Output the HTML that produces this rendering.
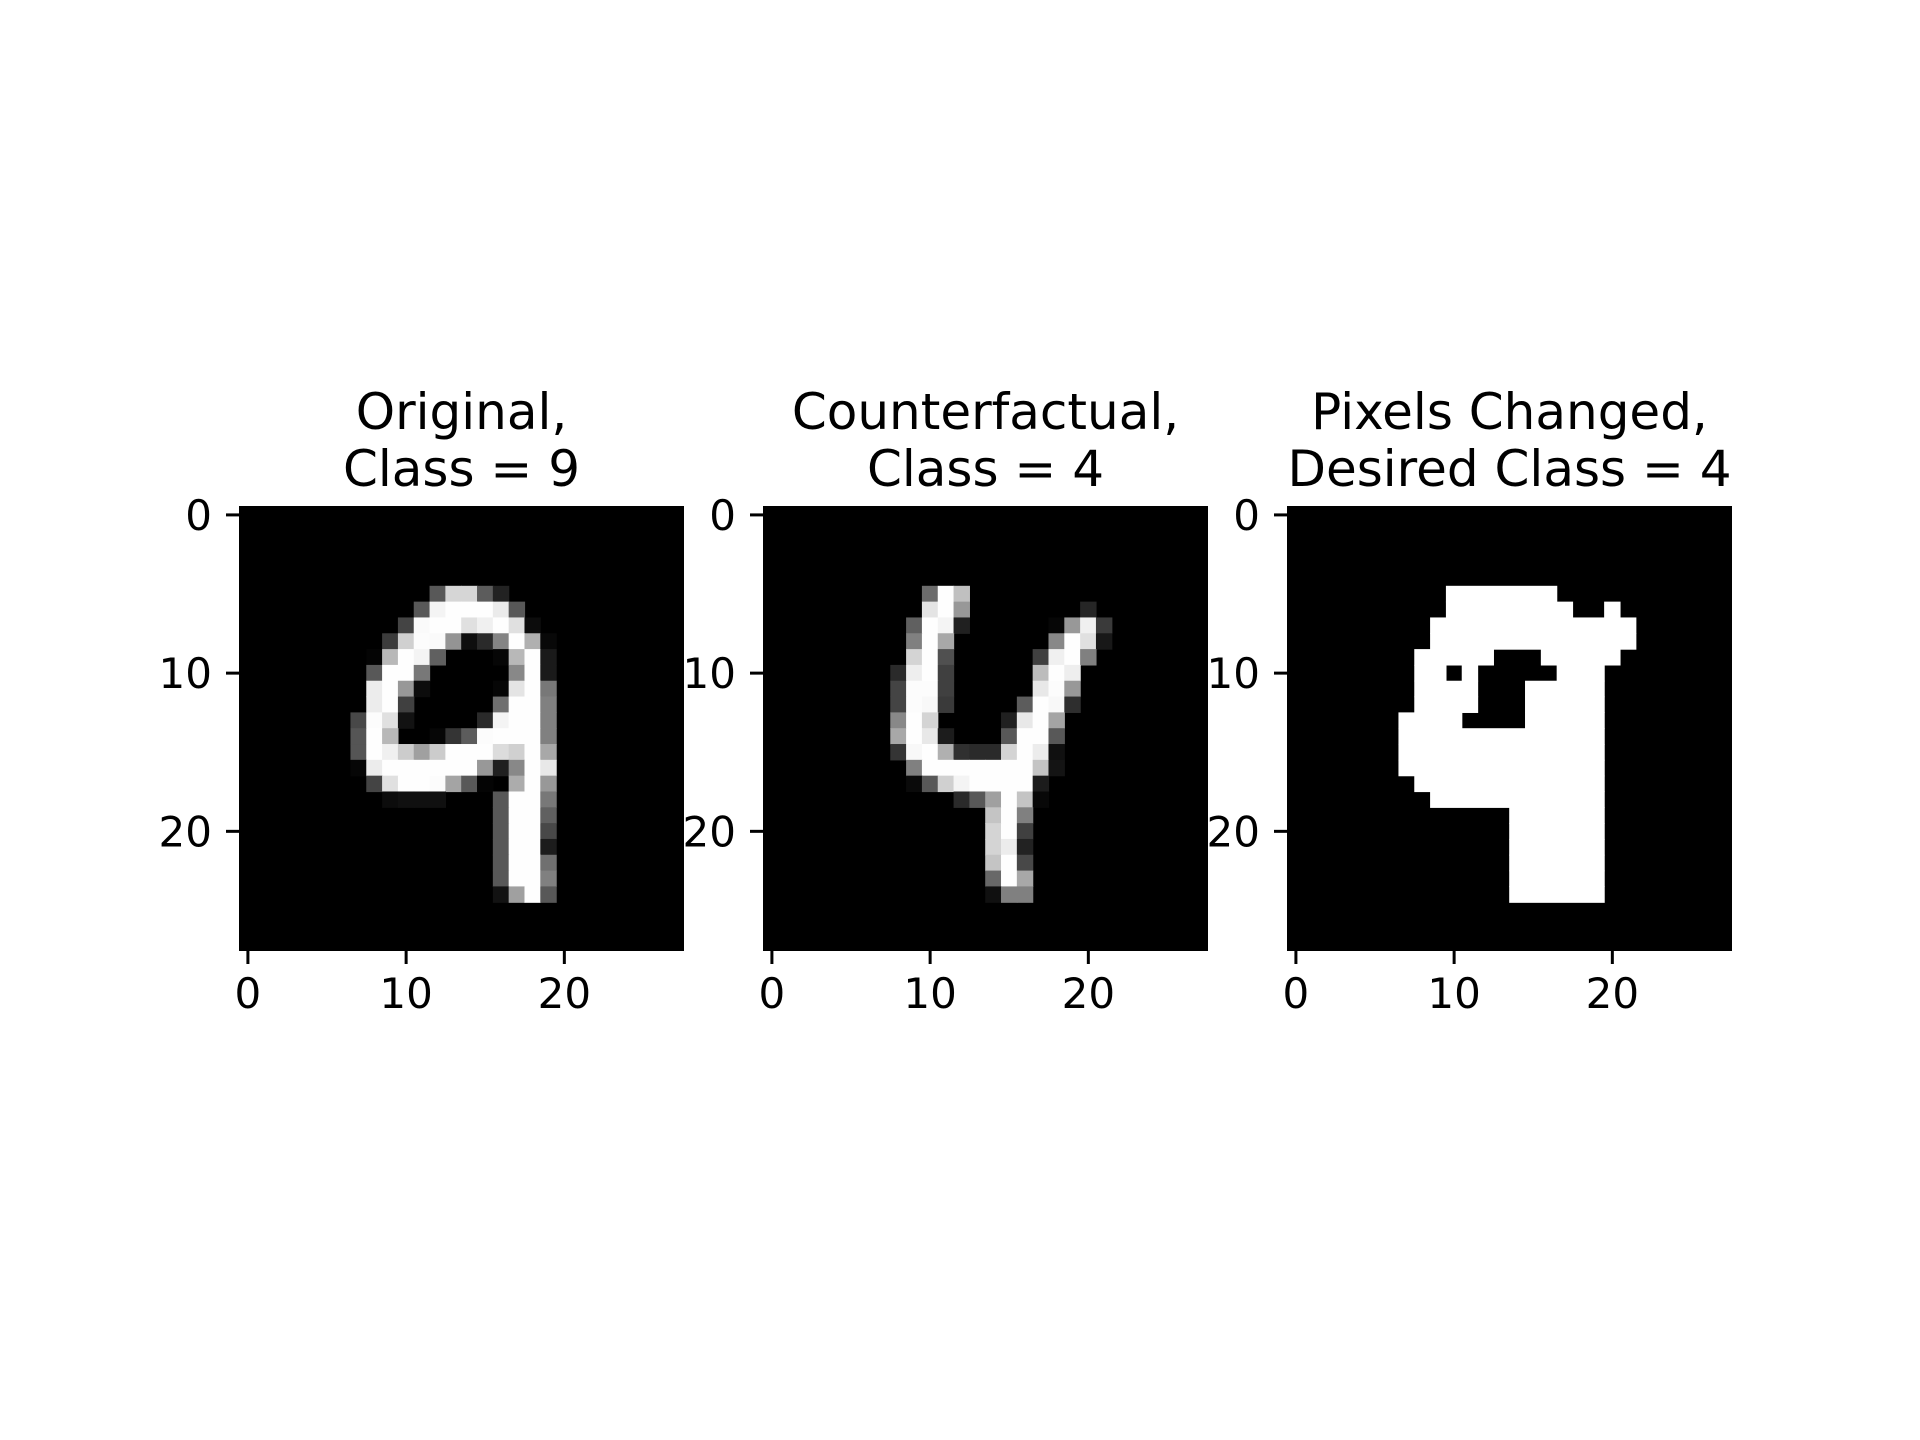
<!DOCTYPE html>
<html><head><meta charset="utf-8"><style>
html,body{margin:0;padding:0;background:#fff;}
svg{display:block;font-family:"DejaVu Sans","Liberation Sans",sans-serif;}
</style></head><body>
<svg id="fig" width="1920" height="1440" viewBox="0 0 1920 1440" xmlns="http://www.w3.org/2000/svg">
<rect width="1920" height="1440" fill="#fff"/>
</svg>
<script>
// Panel data: [row, startCol, "hex values"]
const originalRows = [
[5,12,"58 d6 d6 5c 22"],
[6,11,"58 f4 fe fe fe eb 58"],
[7,10,"44 fa fe fe e0 f0 fe e0 0c"],
[8,9,"3c d0 fc fa 94 0e 2a 84 fe b0 08"],
[9,8,"04 b8 fe f4 60 00 00 00 06 b8 fe 1a"],
[10,8,"58 fe fe 78 00 00 00 00 00 88 fe 1a"],
[11,8,"ec fe 98 0c 00 00 00 00 06 e4 fe 78"],
[12,8,"ec fe 40 00 00 00 00 00 70 fe fe 80"],
[13,7,"48 fc e0 12 00 00 00 00 2a f4 fe fe 80"],
[14,7,"55 fe b8 00 00 06 34 5c fc fe fe fe 80"],
[15,7,"55 fe f0 cc a0 cc fe fe fe dc d0 fe a8"],
[16,7,"06 ec fe fe fe fe fe fe 98 20 88 fe e8"],
[17,8,"44 e0 fe fe fc a4 58 04 00 ac fe 98"],
[18,9,"0c 10 10 10 00 00 00 58 fe fe 78"],
[19,16,"58 fe fe 60"],
[20,16,"58 fe fe 48"],
[21,16,"58 fe fe 1c"],
[22,16,"58 fe fe 70"],
[23,16,"58 fe fe 80"],
[24,16,"12 a0 fe 58"]
];
const counterfactualRows = [
[5,10,"6c fe c0"],
[6,10,"e4 fe 98 00 00 00 00 00 00 00 26"],
[7,9,"60 fe f4 20 00 00 00 00 00 06 98 f0 3a"],
[8,9,"80 fe a8 00 00 00 00 00 00 88 fe e0 18"],
[9,9,"d4 fe 50 00 00 00 00 00 40 f0 fe 80"],
[10,8,"2a ee fe 40 00 00 00 00 00 bc fe ee"],
[11,8,"44 fc fc 40 00 00 00 00 00 e8 fc 98"],
[12,8,"44 fc f8 3a 00 00 00 00 5c fe f8 2e"],
[13,8,"88 fe d4 00 00 00 00 20 e8 fe a4"],
[14,8,"a8 fe e8 1c 00 00 00 58 fe fe 58"],
[15,8,"34 f8 fe b0 30 2a 2a d4 fe ec 10"],
[16,9,"80 fe fe fe fe fe fe fe c4 14"],
[17,9,"0a 58 d0 f4 fe fe fe fe 1c"],
[18,12,"2a 58 a0 fe c4 08"],
[19,14,"c4 fe 80"],
[20,14,"d4 fe 40"],
[21,14,"d4 ec 22"],
[22,14,"c4 fe 48"],
[23,14,"68 fe a8"],
[24,14,"10 80 80"]
];
// Binary mask: [row, firstCol, lastCol] white runs
const changedRuns = [
[5,10,16],[6,10,17],[6,20,20],[7,9,21],[8,9,21],
[9,8,12],[9,16,20],[10,8,9],[10,11,11],[10,17,19],
[11,8,11],[11,15,19],[12,8,11],[12,15,19],[13,7,10],[13,15,19],
[14,7,19],[15,7,19],[16,7,19],[17,8,19],[18,9,19],
[19,14,19],[20,14,19],[21,14,19],[22,14,19],[23,14,19],[24,14,19]
];
const tickValues = [0, 10, 20];
const titleLines = [["Original,","Class = 9"],["Counterfactual,","Class = 4"],["Pixels Changed,","Desired Class = 4"]];
const gridSize = 28;

const NS = "http://www.w3.org/2000/svg";
const svg = document.getElementById("fig");
const panelLefts = [240, 764, 1288];
const axTop = 507, axSize = 443;
const cell = axSize / gridSize;
const panelNames = ["original","counterfactual","pixels-changed"];

function mk(tag, attrs, parent){
  const e = document.createElementNS(NS, tag);
  for (const k in attrs) e.setAttribute(k, attrs[k]);
  parent.appendChild(e);
  return e;
}

panelLefts.forEach((left, p) => {
  const g = mk("g", {}, svg);
  
  
  const sx = v => left + v * cell;
  const sy = v => axTop + v * cell;
  const bg = mk("rect", {x:left, y:axTop, width:axSize, height:axSize, fill:"#000"}, g);
  
  
  if (p < 2) {
    const rows = p === 0 ? originalRows : counterfactualRows;
    rows.forEach(([r, c0, s]) => {
      s.split(" ").forEach((h, i) => {
        const v = parseInt(h, 16);
        if (v === 0) return;
        const px = mk("rect", {x:sx(c0+i)-0.3, y:sy(r)-0.3, width:cell+0.6, height:cell+0.6, fill:`rgb(${v},${v},${v})`}, g);
        
        
      });
    });
  } else {
    changedRuns.forEach(([r, a, b]) => {
      const px = mk("rect", {x:sx(a)-0.3, y:sy(r)-0.3, width:(b-a+1)*cell+0.6, height:cell+0.6, fill:"#fff"}, g);
      
      
    });
  }
  const frame = mk("rect", {x:left, y:axTop, width:axSize, height:axSize, fill:"none", stroke:"#000", "stroke-width":2}, g);
  
  
  tickValues.forEach(t => {
    const cx = sx(t + 0.5), cy = sy(t + 0.5);
    const xt = mk("line", {x1:cx, x2:cx, y1:axTop+axSize, y2:axTop+axSize+14, stroke:"#000", "stroke-width":3}, g);
    
    
    const xl = mk("text", {x:cx, y:1008, "font-size":42, "text-anchor":"middle", fill:"#000"}, g);
    xl.textContent = String(t);
    
    
    const yt = mk("line", {x1:left-14, x2:left, y1:cy, y2:cy, stroke:"#000", "stroke-width":3}, g);
    
    
    const yl = mk("text", {x:left-28, y:cy+15, "font-size":42, "text-anchor":"end", fill:"#000"}, g);
    yl.textContent = String(t);
    
    
  });
  const tt = mk("text", {"font-size":50, "text-anchor":"middle", fill:"#000"}, g);
  
  
  titleLines[p].forEach((line, i) => {
    const ts = mk("tspan", {x:left+axSize/2, y: i === 0 ? 429 : 486}, tt);
    ts.textContent = line;
  });
});
</script>
</body></html>
